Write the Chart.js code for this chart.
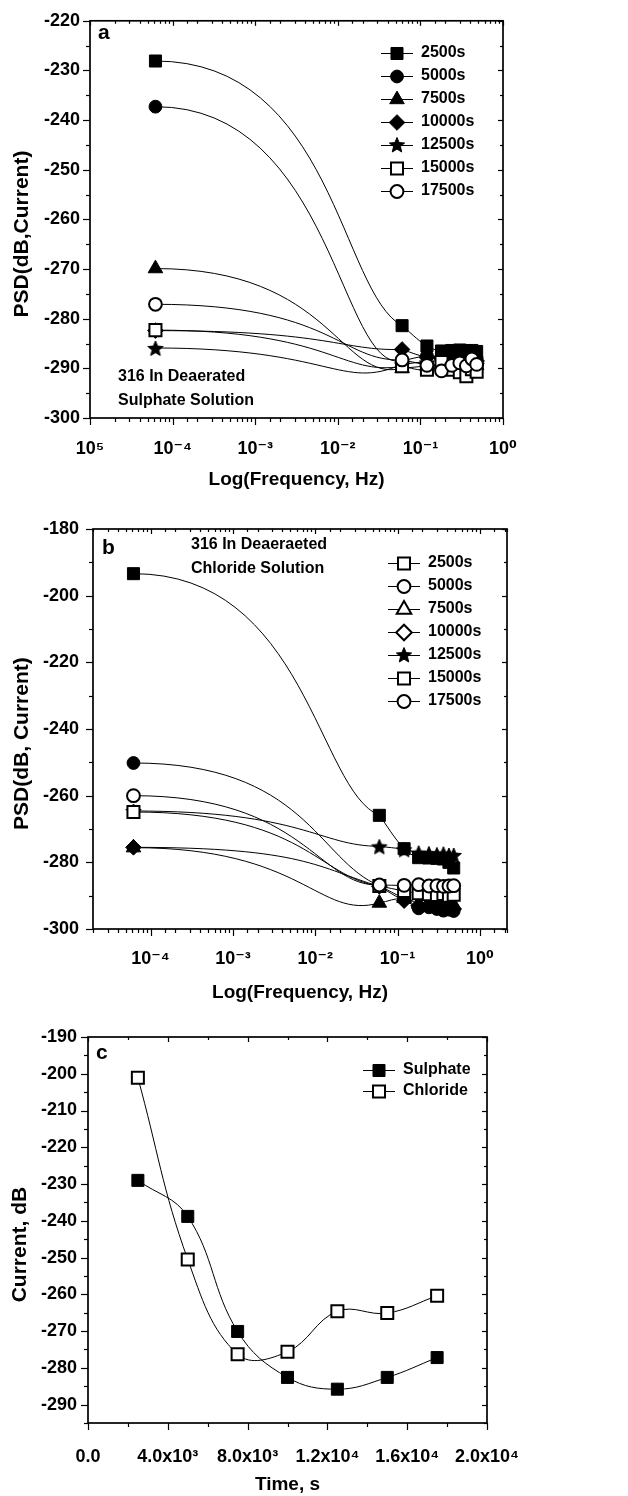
<!DOCTYPE html>
<html><head><meta charset="utf-8">
<script src="https://cdn.jsdelivr.net/npm/chart.js@4.4.1/dist/chart.umd.min.js"></script>
<style>
html,body{margin:0;padding:0;background:#fff;}
#wrap{position:relative;width:628px;height:1496px;background:#fff;}
.pane{position:absolute;left:0;width:628px;}
canvas{display:block;}
</style></head><body>
<div id="wrap">
<div class="pane" style="top:0;height:500px"><canvas id="ca" width="628" height="500"></canvas></div>
<div class="pane" style="top:500px;height:505px"><canvas id="cb" width="628" height="505"></canvas></div>
<div class="pane" style="top:1005px;height:491px"><canvas id="cc" width="628" height="491"></canvas></div>
</div>
<script>
// ---------------- DATA ----------------
const seriesNames = ['2500s','5000s','7500s','10000s','12500s','15000s','17500s'];
const frequencyHz = [6.2e-5, 0.06, 0.12, 0.18, 0.24, 0.30, 0.36, 0.42, 0.48];

// Panel a: 316 in deaerated sulphate solution, PSD (dB, current)
const sulphate2500s  = [-228.1, -281.4, -285.5, -286.5, -286.4, -286.3, -286.5, -286.4, -286.6];
const sulphate5000s  = [-237.3, -288.5, -287.5, -287.8, -287.5, -288.0, -287.6, -287.8, -288.0];
const sulphate7500s  = [-269.9, -290.0, -289.5, -289.2, -289.0, -289.3, -289.0, -289.2, -289.4];
const sulphate10000s = [-282.4, -286.2, -287.8, -288.0, -288.3, -288.0, -288.5, -288.2, -288.5];
const sulphate12500s = [-285.9, -289.2, -288.8, -289.8, -289.6, -289.4, -289.8, -289.1, -289.3];
const sulphate15000s = [-282.3, -289.6, -290.3, -288.7, -290.3, -290.8, -291.6, -290.2, -290.7];
const sulphate17500s = [-277.1, -288.3, -289.4, -290.5, -289.4, -288.9, -289.5, -288.1, -289.2];

// Panel b: 316 in deaerated chloride solution
const chloride2500s  = [-193.4, -265.9, -275.9, -278.6, -278.7, -278.8, -279.0, -280.0, -281.7];
const chloride5000s  = [-250.2, -287.0, -291.0, -293.8, -293.5, -294.0, -294.5, -294.2, -294.6];
const chloride7500s  = [-275.6, -292.2, -290.8, -292.5, -293.0, -292.5, -293.2, -293.5, -292.8];
const chloride10000s = [-275.5, -287.2, -291.5, -293.0, -292.8, -293.0, -293.8, -293.5, -294.0];
const chloride12500s = [-264.6, -275.2, -276.1, -277.1, -277.3, -277.6, -277.4, -277.8, -277.8];
const chloride15000s = [-264.9, -287.1, -288.6, -289.3, -289.6, -289.8, -289.5, -290.0, -289.7];
const chloride17500s = [-260.0, -286.8, -286.9, -286.7, -287.1, -287.0, -287.2, -287.1, -287.0];

// Panel c: current (dB) vs time
const timeS        = [2500, 5000, 7500, 10000, 12500, 15000, 17500];
const sulphateDB   = [-229.0, -238.8, -270.1, -282.6, -285.8, -282.6, -277.2];
const chlorideDB   = [-201.1, -250.5, -276.3, -275.6, -264.6, -265.1, -260.4];

// Tick labels
const freqTickValuesA = [1e-5, 1e-4, 1e-3, 1e-2, 1e-1, 1];
const freqTickLabelsA = ['10\u2075', '10\u207B\u2074', '10\u207B\u00B3', '10\u207B\u00B2', '10\u207B\u00B9', '10\u2070'];
const freqTickValuesB = [1e-4, 1e-3, 1e-2, 1e-1, 1];
const freqTickLabelsB = ['10\u207B\u2074', '10\u207B\u00B3', '10\u207B\u00B2', '10\u207B\u00B9', '10\u2070'];
const psdTicksA = [-300, -290, -280, -270, -260, -250, -240, -230, -220];
const psdTicksB = [-300, -280, -260, -240, -220, -200, -180];
const currentTicksC = [-290, -280, -270, -260, -250, -240, -230, -220, -210, -200, -190];
const timeTickValues = [0, 4000, 8000, 12000, 16000, 20000];
const timeTickLabels = ['0.0', '4.0x10\u00B3', '8.0x10\u00B3', '1.2x10\u2074', '1.6x10\u2074', '2.0x10\u2074'];

// ---------------- STYLE ----------------
const FONT = "'Liberation Sans', Arial, 'DejaVu Sans', sans-serif";
Chart.defaults.font.family = FONT;
Chart.defaults.font.weight = 'bold';
Chart.defaults.color = '#000';

const markerStyles = ['rect', 'circle', 'triangle', 'rectRot', 'star', 'rect', 'circle'];
const plotFilled   = [true, true, true, true, true, false, false];
const legendFilledB = [false, false, false, false, true, false, false];
const markerRadius = { rect: 8.5, circle: 6.4, triangle: 8.4, rectRot: 7.8, star: 8 };

function starPath(g, cx, cy, R) {
  const r = R * 0.45;
  g.beginPath();
  for (let k = 0; k < 10; k++) {
    const ang = -Math.PI / 2 + k * Math.PI / 5;
    const rad = (k % 2 === 0) ? R : r;
    g.lineTo(cx + rad * Math.cos(ang), cy + rad * Math.sin(ang));
  }
  g.closePath();
}
function drawMarker(g, style, filled, cx, cy) {
  g.save();
  g.fillStyle = filled ? '#000' : '#fff';
  g.strokeStyle = '#000';
  g.lineWidth = filled ? 1 : 2;
  if (style === 'star') {
    starPath(g, cx, cy, markerRadius.star);
    g.fill(); g.stroke();
  } else {
    Chart.helpers.drawPoint(g, { pointStyle: style, radius: markerRadius[style], rotation: 0, borderWidth: g.lineWidth }, cx, cy);
  }
  g.restore();
}
function starImage(filled) {
  const s = 22; const c = document.createElement('canvas'); c.width = s; c.height = s;
  drawMarker(c.getContext('2d'), 'star', filled, s / 2, s / 2 + 1);
  return c;
}
function legendIcon(style, filled) {
  const c = document.createElement('canvas'); c.width = 32; c.height = 20;
  const g = c.getContext('2d');
  g.strokeStyle = '#000'; g.lineWidth = 1;
  g.beginPath(); g.moveTo(0, 10.5); g.lineTo(32, 10.5); g.stroke();
  drawMarker(g, style, filled, 16, 10.5);
  return c;
}

function makeDatasets(xs, series, styles, filled) {
  return series.map((vals, i) => ({
    label: seriesNames[i],
    data: xs.map((x, j) => ({ x: x, y: vals[j] })),
    borderColor: '#000', borderWidth: 1, tension: 0.4, fill: false,
    pointStyle: styles[i] === 'star' ? starImage(filled[i]) : styles[i],
    pointRadius: markerRadius[styles[i]],
    pointBackgroundColor: filled[i] ? '#000' : '#fff',
    pointBorderColor: '#000',
    pointBorderWidth: filled[i] ? 1 : 2,
    order: series.length - i
  }));
}

function logLabel(values, labels) {
  return function (v) {
    for (let i = 0; i < values.length; i++) {
      if (Math.abs(Math.log10(v) - Math.log10(values[i])) < 1e-6) return labels[i];
    }
    return '';
  };
}
function linLabel(values, labels) {
  return function (v) {
    const i = values.findIndex(t => Math.abs(t - v) < 1e-6);
    return i >= 0 ? labels[i] : '';
  };
}

// ---------------- PLUGINS ----------------
// Origin-like smooth drop between the lowest frequency and the first high frequency point
const sigmoidPlugin = {
  id: 'sigmoid',
  beforeDatasetDraw(chart, args, opts) {
    const meta = args.meta;
    if (meta.type !== 'line' || !meta.dataset) return;
    meta.dataset.updateControlPoints(chart.chartArea, meta.iScale.axis);
    const p = meta.data;
    if (p.length < 3) return;
    const p0 = p[0], p1 = p[1], p2 = p[2];
    const dx = p1.x - p0.x;
    p0.cp2x = p0.x + opts.lead * dx; p0.cp2y = p0.y;
    const s = (p2.y - p1.y) / (p2.x - p1.x);
    const h = opts.tail * dx;
    let dy = s * h;
    dy = Math.max(-opts.maxDy, Math.min(opts.maxDy, dy));
    const drop = Math.abs(p1.y - p0.y);
    const dip = opts.dip * Math.max(0, Math.min(1, 1 - drop / opts.dipRange));
    p1.cp1x = p1.x - h; p1.cp1y = p1.y - dy + dip;
    const h2 = 0.35 * (p2.x - p1.x);
    p1.cp2x = p1.x + h2; p1.cp2y = p1.y + s * h2;
  }
};

const framePlugin = {
  id: 'frame',
  afterDraw(chart) {
    const { ctx, chartArea: a } = chart;
    const xs = chart.scales.x, ys = chart.scales.y;
    ctx.save();
    ctx.strokeStyle = '#000';
    ctx.lineWidth = 1.2;
    const seg = (x1, y1, x2, y2) => { ctx.beginPath(); ctx.moveTo(x1, y1); ctx.lineTo(x2, y2); ctx.stroke(); };
    xs.ticks.forEach(t => {
      const px = Math.round(xs.getPixelForValue(t.value)) + 0.5;
      if (px < a.left - 1 || px > a.right + 1) return;
      const major = !!t.label;
      seg(px, a.bottom, px, a.bottom + (major ? 7 : 4));
      seg(px, a.top, px, a.top + (major ? 5 : 3));
    });
    ys.ticks.forEach(t => {
      const py = Math.round(ys.getPixelForValue(t.value)) + 0.5;
      if (py < a.top - 1 || py > a.bottom + 1) return;
      const major = !!t.label;
      seg(a.left, py, a.left - (major ? 7 : 4), py);
      seg(a.right, py, a.right - (major ? 5 : 3), py);
    });
    ctx.lineWidth = 1.7;
    ctx.strokeRect(a.left, a.top, a.right - a.left, a.bottom - a.top);
    ctx.restore();
  }
};

const notesPlugin = {
  id: 'notes',
  afterDraw(chart, args, opts) {
    const ctx = chart.ctx;
    ctx.save();
    ctx.fillStyle = '#000'; ctx.textBaseline = 'middle'; ctx.textAlign = 'left';
    (opts.items || []).forEach(it => { ctx.font = it.font; ctx.fillText(it.text, it.x, it.y); });
    ctx.restore();
  }
};

const legendPosPlugin = {
  id: 'legendPos',
  beforeDraw(chart, args, opts) {
    const lg = chart.legend;
    if (!lg) return;
    const w = lg.width, h = lg.height;
    lg.left = opts.x; lg.top = opts.y; lg.right = opts.x + w; lg.bottom = opts.y + h;
    if (lg.adjustHitBoxes) lg.adjustHitBoxes();
  }
};

function legendConfig(icons, padding) {
  return {
    display: true, position: 'chartArea', align: 'start',
    labels: {
      usePointStyle: true, pointStyleWidth: 32, boxHeight: 16, padding: padding,
      color: '#000', font: { family: FONT, size: 16, weight: 'bold' },
      generateLabels: (chart) => chart.data.datasets.map((ds, i) => ({
        text: ds.label, pointStyle: icons[i], fillStyle: '#000', strokeStyle: '#000',
        lineWidth: 0, hidden: false, datasetIndex: i, fontColor: '#000'
      }))
    }
  };
}

function axisTitle(text, size, padding) {
  return { display: true, text: text, color: '#000', font: { family: FONT, size: size, weight: 'bold' }, padding: padding };
}
const tickFont = { family: FONT, size: 18, weight: 'bold' };

function logX(min, max, values, labels, pad, h, titlePadBottom) {
  return {
    type: 'logarithmic', min: min, max: max,
    grid: { display: false, drawTicks: false }, border: { display: false },
    ticks: { autoSkip: false, maxRotation: 0, minRotation: 0, padding: pad, font: tickFont, color: '#000', callback: logLabel(values, labels) },
    title: axisTitle('Log(Frequency, Hz)', 19, { top: 0, bottom: titlePadBottom }),
    afterFit: (s) => { s.height = h; }
  };
}
function linY(min, max, step, values, pad, w, title, titlePadTop) {
  return {
    type: 'linear', min: min, max: max,
    grid: { display: false, drawTicks: false }, border: { display: false },
    ticks: { stepSize: step, autoSkip: false, padding: pad, font: tickFont, color: '#000', callback: linLabel(values, values.map(String)) },
    title: axisTitle(title, 21, { top: titlePadTop, bottom: 0 }),
    afterFit: (s) => { s.width = w; }
  };
}

const common = { responsive: false, animation: false, events: [], devicePixelRatio: 1 };

// ---------------- PANEL A ----------------
new Chart(document.getElementById('ca'), {
  type: 'line',
  data: { datasets: makeDatasets(frequencyHz,
    [sulphate2500s, sulphate5000s, sulphate7500s, sulphate10000s, sulphate12500s, sulphate15000s, sulphate17500s],
    markerStyles, plotFilled) },
  options: Object.assign({}, common, {
    layout: { padding: { top: 18, right: 125, left: 0, bottom: 0 } },
    scales: {
      x: logX(1e-5, 1, freqTickValuesA, freqTickLabelsA, 20, 82, 9),
      y: linY(-300, -220, 5, psdTicksA, 10, 90, 'PSD(dB,Current)     ', 10)
    },
    plugins: {
      legend: legendConfig(markerStyles.map((s, i) => legendIcon(s, plotFilled[i])), 7),
      tooltip: { enabled: false },
      sigmoid: { lead: 0.72, tail: 0.25, maxDy: 33, dip: 24, dipRange: 160 },
      legendPos: { x: 374, y: 38 },
      notes: { items: [
        { text: 'a', x: 98, y: 33, font: "bold 21px " + FONT },
        { text: '316 In Deaerated', x: 118, y: 377, font: "bold 16px " + FONT },
        { text: 'Sulphate Solution', x: 118, y: 401, font: "bold 16px " + FONT }
      ] }
    }
  }),
  plugins: [sigmoidPlugin, framePlugin, notesPlugin, legendPosPlugin]
});

// ---------------- PANEL B ----------------
new Chart(document.getElementById('cb'), {
  type: 'line',
  data: { datasets: makeDatasets(frequencyHz,
    [chloride2500s, chloride5000s, chloride7500s, chloride10000s, chloride12500s, chloride15000s, chloride17500s],
    markerStyles, plotFilled) },
  options: Object.assign({}, common, {
    layout: { padding: { top: 29, right: 121, left: 0, bottom: 0 } },
    scales: {
      x: logX(2e-5, 2.13, freqTickValuesB, freqTickLabelsB, 19, 76, 1),
      y: linY(-300, -180, 10, psdTicksB, 14, 93, 'PSD(dB, Current)     ', 10)
    },
    plugins: {
      legend: legendConfig(markerStyles.map((s, i) => legendIcon(s, legendFilledB[i])), 7),
      tooltip: { enabled: false },
      sigmoid: { lead: 0.7, tail: 0.25, maxDy: 25, dip: 10, dipRange: 120 },
      legendPos: { x: 381, y: 48 },
      notes: { items: [
        { text: 'b', x: 102, y: 48, font: "bold 21px " + FONT },
        { text: '316 In Deaeraeted', x: 191, y: 45, font: "bold 16px " + FONT },
        { text: 'Chloride Solution', x: 191, y: 69, font: "bold 16px " + FONT }
      ] }
    }
  }),
  plugins: [sigmoidPlugin, framePlugin, notesPlugin, legendPosPlugin]
});

// ---------------- PANEL C ----------------
const cStyles = ['rect', 'rect'];
const cFilled = [true, false];
new Chart(document.getElementById('cc'), {
  type: 'line',
  data: { datasets: [
    { label: 'Sulphate', data: timeS.map((t, i) => ({ x: t, y: sulphateDB[i] })),
      borderColor: '#000', borderWidth: 1, tension: 0.4, fill: false,
      pointStyle: 'rect', pointRadius: markerRadius.rect, pointBackgroundColor: '#000', pointBorderColor: '#000', pointBorderWidth: 1, order: 2 },
    { label: 'Chloride', data: timeS.map((t, i) => ({ x: t, y: chlorideDB[i] })),
      borderColor: '#000', borderWidth: 1, tension: 0.4, fill: false,
      pointStyle: 'rect', pointRadius: markerRadius.rect, pointBackgroundColor: '#fff', pointBorderColor: '#000', pointBorderWidth: 2, order: 1 }
  ] },
  options: Object.assign({}, common, {
    layout: { padding: { top: 32, right: 141, left: 0, bottom: 0 } },
    scales: {
      x: {
        type: 'linear', min: 0, max: 20000,
        grid: { display: false, drawTicks: false }, border: { display: false },
        ticks: { stepSize: 2000, autoSkip: false, maxRotation: 0, minRotation: 0, padding: 23, font: tickFont, color: '#000',
          callback: linLabel(timeTickValues, timeTickLabels) },
        title: axisTitle('Time, s', 19, { top: 0, bottom: 0 }),
        afterFit: (s) => { s.height = 73; }
      },
      y: linY(-295, -190, 5, currentTicksC, 11, 88, 'Current, dB     ', 8)
    },
    plugins: {
      legend: legendConfig(cStyles.map((s, i) => legendIcon(s, cFilled[i])), 5),
      tooltip: { enabled: false },
      legendPos: { x: 358, y: 52 },
      notes: { items: [
        { text: 'c', x: 96, y: 48, font: "bold 21px " + FONT }
      ] }
    }
  }),
  plugins: [framePlugin, notesPlugin, legendPosPlugin]
});
</script>
</body></html>
